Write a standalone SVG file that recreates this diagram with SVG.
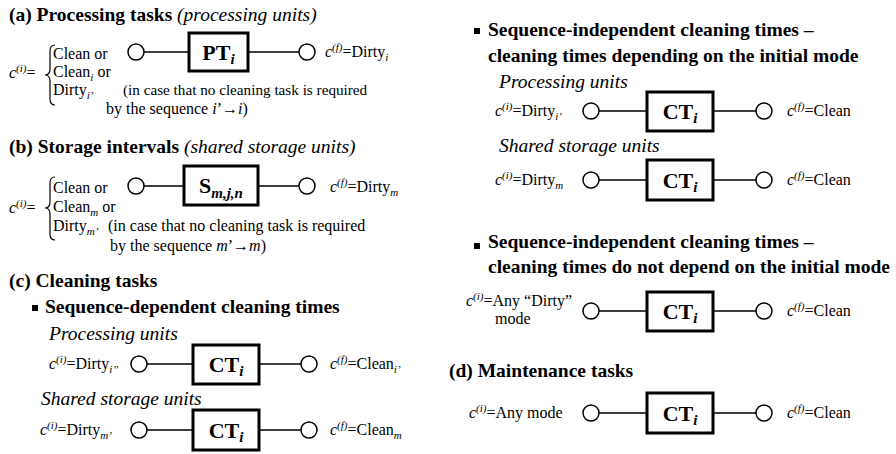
<svg xmlns="http://www.w3.org/2000/svg" width="896" height="454" viewBox="0 0 896 454">
<style>
.t{font-family:"Liberation Serif","Times New Roman",serif;fill:#000}
.h{font-size:19.5px;font-weight:bold}
.hi{font-style:italic;font-weight:normal}
.lb{font-size:19.5px;font-style:italic}
.b{font-size:16px}
.it{font-style:italic}
.sp{font-size:11px;font-style:italic}
.sb{font-size:11px;font-style:italic}
.bl{font-size:22px;font-weight:bold}
.bs{font-size:15px;font-weight:bold;font-style:italic}
.box{fill:#fff;stroke:#000;stroke-width:3}
.st{fill:#fff;stroke:#000;stroke-width:1.5}
.cn{stroke:#000;stroke-width:1.3;fill:none}
.br{stroke:#000;stroke-width:1.2;fill:none}
</style>
<rect width="896" height="454" fill="#fff"/>

<!-- connectors -->
<g id="connectors" class="cn">
<line x1="144" y1="52" x2="189" y2="52"/><line x1="248" y1="52" x2="299" y2="52"/>
<line x1="144" y1="186" x2="184" y2="186"/><line x1="258" y1="186" x2="299" y2="186"/>
<line x1="147" y1="364" x2="193" y2="364"/><line x1="259" y1="364" x2="301" y2="364"/>
<line x1="147" y1="430" x2="193" y2="430"/><line x1="259" y1="430" x2="301" y2="430"/>
<line x1="599" y1="111" x2="647" y2="111"/><line x1="713" y1="111" x2="756" y2="111"/>
<line x1="599" y1="180" x2="647" y2="180"/><line x1="713" y1="180" x2="756" y2="180"/>
<line x1="599" y1="311" x2="647" y2="311"/><line x1="713" y1="311" x2="756" y2="311"/>
<line x1="599" y1="413" x2="647" y2="413"/><line x1="713" y1="413" x2="756" y2="413"/>
</g>

<!-- (a) -->
<text class="t h" x="9" y="21">(a) Processing tasks <tspan class="hi">(processing units)</tspan></text>
<g id="a_in"><circle class="st" cx="136" cy="52" r="8"/></g>
<g id="a_pt"><rect class="box" x="189" y="33" width="59" height="38"/><text class="t bl" x="218.5" y="60" text-anchor="middle">PT<tspan class="bs" dy="4">i</tspan></text></g>
<g id="a_out"><circle class="st" cx="307" cy="52" r="8"/></g>
<text class="t b" x="325" y="57"><tspan class="it">c</tspan><tspan class="sp" dy="-6">(f)</tspan><tspan dy="6">=Dirty</tspan><tspan class="sb" dy="4">i</tspan></text>
<text class="t b" x="9" y="78"><tspan class="it">c</tspan><tspan class="sp" dy="-6">(i)</tspan><tspan dy="6">=</tspan></text>
<path class="br" d="M55,45 Q50,45 50,51 L50,69 Q50,75 45,75 Q50,75 50,81 L50,99 Q50,105 55,105"/>
<text class="t b" x="53" y="59">Clean or</text>
<text class="t b" x="53" y="77">Clean<tspan class="sb" dy="4">i</tspan><tspan dy="-4"> or</tspan></text>
<text class="t b" x="53" y="95">Dirty<tspan class="sb" dy="4">i’</tspan></text>
<text class="t" x="123" y="95" font-size="15.2">(in case that no cleaning task is required</text>
<text class="t b" x="106" y="114">by the sequence <tspan class="it">i</tspan>’→<tspan class="it">i</tspan>)</text>

<!-- (b) -->
<text class="t h" x="9" y="153">(b) Storage intervals <tspan class="hi">(shared storage units)</tspan></text>
<g id="b_in"><circle class="st" cx="136" cy="186" r="8"/></g>
<g id="b_s"><rect class="box" x="184" y="166" width="74" height="39"/><text class="t bl" x="221" y="193" text-anchor="middle">S<tspan class="bs" dy="5">m,j,n</tspan></text></g>
<g id="b_out"><circle class="st" cx="307" cy="186" r="8"/></g>
<text class="t b" x="330" y="192"><tspan class="it">c</tspan><tspan class="sp" dy="-6">(f)</tspan><tspan dy="6">=Dirty</tspan><tspan class="sb" dy="4">m</tspan></text>
<text class="t b" x="9" y="213"><tspan class="it">c</tspan><tspan class="sp" dy="-6">(i)</tspan><tspan dy="6">=</tspan></text>
<path class="br" d="M55,177 Q50,177 50,183 L50,202 Q50,208 45,208 Q50,208 50,214 L50,234 Q50,240 55,240"/>
<text class="t b" x="53" y="193">Clean or</text>
<text class="t b" x="53" y="212">Clean<tspan class="sb" dy="4">m</tspan><tspan dy="-4"> or</tspan></text>
<text class="t b" x="53" y="231">Dirty<tspan class="sb" dy="4">m’</tspan></text>
<text class="t b" x="108" y="231">(in case that no cleaning task is required</text>
<text class="t b" x="110" y="251">by the sequence <tspan class="it">m</tspan>’→<tspan class="it">m</tspan>)</text>

<!-- (c) -->
<text class="t h" x="9" y="287">(c) Cleaning tasks</text>
<rect x="32" y="305" width="6" height="6" fill="#000"/>
<text class="t h" x="45" y="313">Sequence-dependent cleaning times</text>
<text class="t lb" x="49" y="340">Processing units</text>
<text class="t b" x="49" y="369"><tspan class="it">c</tspan><tspan class="sp" dy="-6">(i)</tspan><tspan dy="6">=Dirty</tspan><tspan class="sb" dy="4">i’’</tspan></text>
<g id="c1_in"><circle class="st" cx="139" cy="364" r="8"/></g>
<g id="c1_ct"><rect class="box" x="193" y="345" width="66" height="39"/><text class="t bl" x="226" y="372" text-anchor="middle">CT<tspan class="bs" dy="4">i</tspan></text></g>
<g id="c1_out"><circle class="st" cx="309" cy="364" r="8"/></g>
<text class="t b" x="330" y="369"><tspan class="it">c</tspan><tspan class="sp" dy="-6">(f)</tspan><tspan dy="6">=Clean</tspan><tspan class="sb" dy="4">i’</tspan></text>

<text class="t lb" x="41" y="405">Shared storage units</text>
<text class="t b" x="40" y="435"><tspan class="it">c</tspan><tspan class="sp" dy="-6">(i)</tspan><tspan dy="6">=Dirty</tspan><tspan class="sb" dy="4">m’</tspan></text>
<g id="c2_in"><circle class="st" cx="139" cy="430" r="8"/></g>
<g id="c2_ct"><rect class="box" x="193" y="410" width="66" height="40"/><text class="t bl" x="226" y="438" text-anchor="middle">CT<tspan class="bs" dy="4">i</tspan></text></g>
<g id="c2_out"><circle class="st" cx="309" cy="430" r="8"/></g>
<text class="t b" x="330" y="435"><tspan class="it">c</tspan><tspan class="sp" dy="-6">(f)</tspan><tspan dy="6">=Clean</tspan><tspan class="sb" dy="4">m</tspan></text>

<!-- right: sequence-independent, depending on initial mode -->
<rect x="474" y="28" width="6" height="6" fill="#000"/>
<text class="t h" x="488" y="36">Sequence-independent cleaning times –</text>
<text class="t h" x="488" y="62">cleaning times depending on the initial mode</text>
<text class="t lb" x="499" y="88">Processing units</text>
<text class="t b" x="495" y="116"><tspan class="it">c</tspan><tspan class="sp" dy="-6">(i)</tspan><tspan dy="6">=Dirty</tspan><tspan class="sb" dy="4">i’</tspan></text>
<g id="r1_in"><circle class="st" cx="591" cy="111" r="8"/></g>
<g id="r1_ct"><rect class="box" x="647" y="92" width="66" height="39"/><text class="t bl" x="680" y="119" text-anchor="middle">CT<tspan class="bs" dy="4">i</tspan></text></g>
<g id="r1_out"><circle class="st" cx="764" cy="111" r="8"/></g>
<text class="t b" x="787" y="116"><tspan class="it">c</tspan><tspan class="sp" dy="-6">(f)</tspan><tspan dy="6">=Clean</tspan></text>

<text class="t lb" x="499" y="152">Shared storage units</text>
<text class="t b" x="495" y="185"><tspan class="it">c</tspan><tspan class="sp" dy="-6">(i)</tspan><tspan dy="6">=Dirty</tspan><tspan class="sb" dy="4">m</tspan></text>
<g id="r2_in"><circle class="st" cx="591" cy="180" r="8"/></g>
<g id="r2_ct"><rect class="box" x="647" y="160" width="66" height="40"/><text class="t bl" x="680" y="188" text-anchor="middle">CT<tspan class="bs" dy="4">i</tspan></text></g>
<g id="r2_out"><circle class="st" cx="764" cy="180" r="8"/></g>
<text class="t b" x="787" y="185"><tspan class="it">c</tspan><tspan class="sp" dy="-6">(f)</tspan><tspan dy="6">=Clean</tspan></text>

<!-- right: sequence-independent, not depending on initial mode -->
<rect x="474" y="243" width="6" height="6" fill="#000"/>
<text class="t h" x="488" y="248">Sequence-independent cleaning times –</text>
<text class="t h" x="488" y="273">cleaning times do not depend on the initial mode</text>
<text class="t b" x="466" y="306"><tspan class="it">c</tspan><tspan class="sp" dy="-6">(i)</tspan><tspan dy="6">=Any “Dirty”</tspan></text>
<text class="t b" x="495" y="324">mode</text>
<g id="r3_in"><circle class="st" cx="591" cy="311" r="8"/></g>
<g id="r3_ct"><rect class="box" x="647" y="292" width="66" height="39"/><text class="t bl" x="680" y="319" text-anchor="middle">CT<tspan class="bs" dy="4">i</tspan></text></g>
<g id="r3_out"><circle class="st" cx="764" cy="311" r="8"/></g>
<text class="t b" x="787" y="316"><tspan class="it">c</tspan><tspan class="sp" dy="-6">(f)</tspan><tspan dy="6">=Clean</tspan></text>

<!-- (d) -->
<text class="t h" x="449" y="377">(d) Maintenance tasks</text>
<text class="t b" x="469" y="418"><tspan class="it">c</tspan><tspan class="sp" dy="-6">(i)</tspan><tspan dy="6">=Any mode</tspan></text>
<g id="d_in"><circle class="st" cx="591" cy="413" r="8"/></g>
<g id="d_ct"><rect class="box" x="647" y="393" width="66" height="40"/><text class="t bl" x="680" y="421" text-anchor="middle">CT<tspan class="bs" dy="4">i</tspan></text></g>
<g id="d_out"><circle class="st" cx="764" cy="413" r="8"/></g>
<text class="t b" x="787" y="418"><tspan class="it">c</tspan><tspan class="sp" dy="-6">(f)</tspan><tspan dy="6">=Clean</tspan></text>
</svg>
